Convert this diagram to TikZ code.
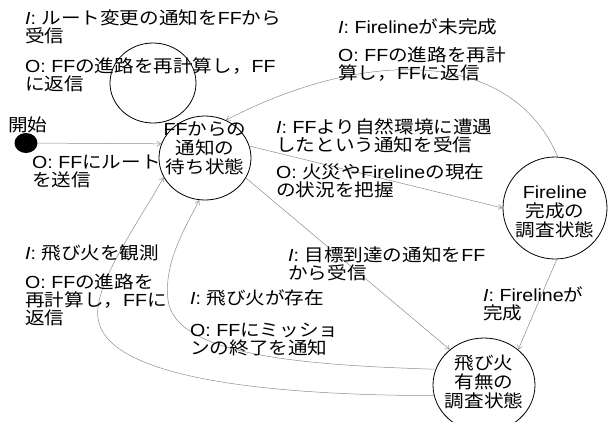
\documentclass[tikz,border=0pt]{standalone}
\usepackage{fontspec}
\setmainfont[FakeStretch=1.12]{Liberation Sans}
\newfontfamily\jp[FakeStretch=1.12]{Noto Sans CJK JP}
\newcommand\J[1]{{\jp #1}}
\newcommand\St{\rule{0pt}{16pt}}
\usetikzlibrary{shapes.geometric,arrows.meta}
\tikzset{
  state/.style={draw=black, line width=0.8pt, ellipse, inner sep=0pt},
  stext/.style={align=center, anchor=north, inner sep=0pt, font=\fontsize{17.5}{19}\selectfont},
  lbl/.style={align=left, anchor=north west, inner sep=0pt, font=\fontsize{17.5}{18}\selectfont},
  edge/.style={draw=black!45, line width=0.5pt, -{Straight Barb[length=4pt,width=5pt]}},
  loopline/.style={draw=black, line width=0.8pt},
}
\begin{document}
\begin{tikzpicture}[x=1pt,y=-1pt]
\useasboundingbox (0,0) rectangle (610,421);
% states
\node[state, minimum width=92pt, minimum height=84pt] (wait) at (205,158) {};
\node[stext] (waittxt) at (205,119.5) {\St FF\J{からの}\\\J{通知の}\\\J{待ち状態}};
\node[state, minimum width=104pt, minimum height=102pt] (fire) at (555,208) {};
\node[stext] (firetxt) at (555,182.5) {\St Fireline\\\J{完成の}\\\J{調査状態}};
\node[state, minimum width=102pt, minimum height=94pt] (spark) at (484,385) {};
\node[stext] (sparktxt) at (484,353.5) {\St\J{飛び火}\\\J{有無の}\\\J{調査状態}};
\node[fill=black, ellipse, minimum width=23pt, minimum height=20pt, inner sep=0pt] (start) at (26,143) {};
% self loop
\draw[loopline] (153,83) ellipse [x radius=43pt, y radius=40pt];
% connectors
\draw[edge] (start) -- (wait.162);
\draw[edge] (fire.87) .. controls (510,45) and (360,50) .. (wait.61);
\draw[edge] (wait.15) -- (fire.180);
\draw[edge] (wait.-26) -- (spark.134);
\draw[edge] (fire.-88) -- (spark.46);
\draw[edge] (spark.192) .. controls (250,395) and (105,375) .. (98,318) .. controls (93,285) and (140,220) .. (wait.205);
\draw[edge] (spark.162) .. controls (300,365) and (175,355) .. (168,300) .. controls (163,260) and (190,220) .. (wait.262);
% labels
\node[lbl] (l1) at (25,8.5) {\St\textit{I}: \J{ルート変更の通知を}FF\J{から}\\\J{受信}\\[11.5pt]O: FF\J{の進路を再計算し，}FF\\\J{に返信}};
\node[lbl] (l2) at (8,115.5) {\St\J{開始}};
\node[lbl] (l3) at (32,152.5) {\St O: FF\J{にルート}\\\J{を送信}};
\node[lbl] (l4) at (338,17.5) {\St\textit{I}: Fireline\J{が未完成}\\[10pt]O: FF\J{の進路を再計}\\\J{算し，}FF\J{に返信}};
\node[lbl] (l5) at (276,117.5) {\St\textit{I}: FF\J{より自然環境に遭遇}\\\J{したという通知を受信}\\[9pt]O: \J{火災や}Fireline\J{の現在}\\\J{の状況を把握}};
\node[lbl] (l6) at (288,245.5) {\St\textit{I}: \J{目標到達の通知を}FF\\\J{から受信}};
\node[lbl] (l7) at (483,285.5) {\St\textit{I}: Fireline\J{が}\\\J{完成}};
\node[lbl] (l8) at (25,243.5) {\St\textit{I}: \J{飛び火を観測}\\[11pt]O: FF\J{の進路を}\\\J{再計算し，}FF\J{に}\\\J{返信}};
\node[lbl] (l9) at (190,288.5) {\St\textit{I}: \J{飛び火が存在}\\[14pt]O: FF\J{にミッショ}\\\J{ンの終了を通知}};
\end{tikzpicture}
\end{document}
